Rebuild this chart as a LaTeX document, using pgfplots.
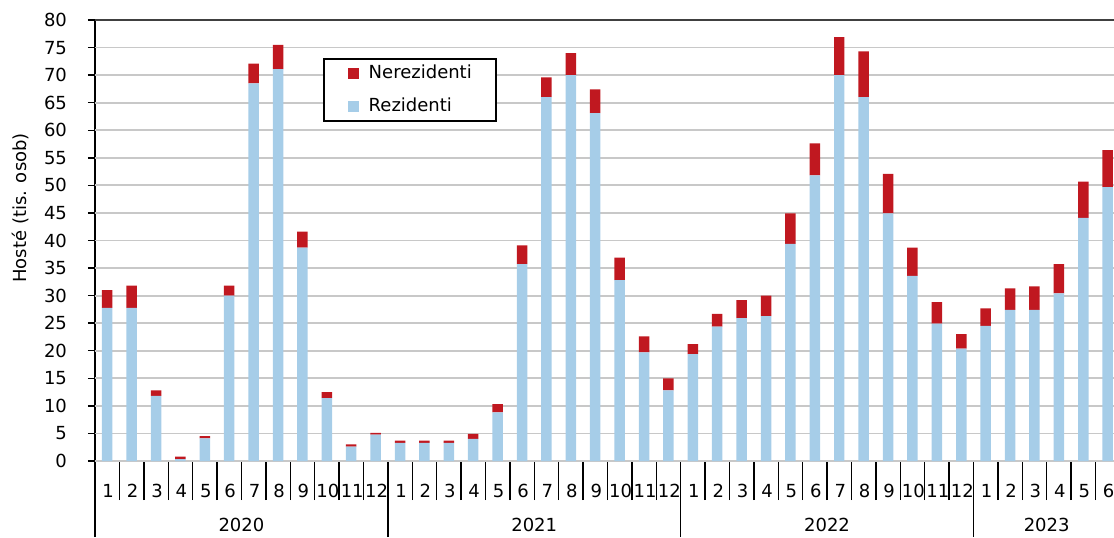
\documentclass[border=0pt]{standalone}
\usepackage{pgfplots}
\pgfplotsset{compat=1.18}
\usepackage{pgfplotstable}
\usepackage{fontspec}
\setmainfont{DejaVu Sans}
\definecolor{rez}{RGB}{166,205,232}
\definecolor{nerez}{RGB}{192,24,32}
\definecolor{gridc}{RGB}{200,200,200}
\pgfplotsset{sqleg/.style={legend image code/.code={\fill[##1] (0pt,-2.75pt) rectangle (5.5pt,2.75pt);}}}

\pgfplotstableread{
x R N
0 27.8 3.2
1 27.8 4.0
2 11.8 1.0
3 0.35 0.45
4 4.1 0.4
5 30.0 1.8
6 68.5 3.6
7 71.1 4.4
8 38.7 2.9
9 11.4 1.1
10 2.6 0.4
11 4.8 0.3
12 3.3 0.4
13 3.3 0.4
14 3.3 0.4
15 4.0 0.9
16 8.8 1.5
17 35.7 3.4
18 66.0 3.6
19 70.0 4.0
20 63.1 4.3
21 32.8 4.1
22 19.7 2.9
23 12.8 2.2
24 19.4 1.8
25 24.4 2.3
26 25.9 3.3
27 26.3 3.7
28 39.4 5.5
29 51.8 5.8
30 70.0 6.9
31 66.0 8.3
32 44.9 7.2
33 33.6 5.1
34 24.9 3.9
35 20.4 2.6
36 24.5 3.2
37 27.4 3.9
38 27.4 4.3
39 30.4 5.3
40 44.1 6.6
41 49.7 6.7
}\data

\begin{document}
\begin{tikzpicture}[font=\fontsize{9pt}{10.8pt}\selectfont]
\useasboundingbox (0,0) rectangle (557pt,268.5pt);
\begin{axis}[
  at={(47.5pt,38pt)}, anchor=south west,
  scale only axis, width=509.5pt, height=220.5pt,
  clip mode=individual,
  /pgf/number format/assume math mode=true,
  ybar stacked, bar width=0.43,
  xmin=-0.5, xmax=41.26, ymin=0, ymax=80,
  axis x line=bottom, axis y line=left,
  axis line style={-, black, line width=0.8pt},
  tick align=outside,
  major tick length=19.5pt,
  ytick={0,5,...,80},
  ytick style={draw=none},
  yticklabel style={xshift=9pt},
  extra y ticks={0,5,...,80},
  extra y tick labels={},
  extra y tick style={major tick length=3.5pt, ytick style={draw=black, line width=0.7pt}},
  ymajorgrids, major grid style={gridc, line width=0.9pt},
  xtick={-0.5,0.5,...,40.5},
  xticklabels={1,2,3,4,5,6,7,8,9,10,11,12,1,2,3,4,5,6,7,8,9,10,11,12,1,2,3,4,5,6,7,8,9,10,11,12,1,2,3,4,5,6},
  xtick style={black, line width=0.7pt},
  xticklabel style={anchor=center, xshift=6.6pt, yshift=4.5pt},
  extra x ticks={-0.5,11.5,23.5,35.5},
  extra x tick labels={},
  extra x tick style={major tick length=38pt, xtick style={black, line width=0.7pt}},
  ylabel={Hosté (tis. osob)},
  ylabel style={at={(axis description cs:-0.0736,0.574)}, anchor=center},
  legend style={at={(rel axis cs:0.2237,0.914)}, anchor=north west, draw=black, line width=0.8pt,
    inner xsep=12pt, inner ysep=2.9pt, row sep=7.25pt, column sep=5pt,
    nodes={inner sep=0pt, text height=7pt, text depth=2pt}, font=\fontsize{9pt}{10.8pt}\selectfont},
  legend cell align=left,
  reverse legend,
]
\addplot[fill=rez, draw=none, sqleg] table[x=x, y=R] {\data};
\addplot[fill=nerez, draw=none, sqleg] table[x=x, y=N] {\data};
\legend{Rezidenti, Nerezidenti}
\draw[black!75, line width=1.2pt] (rel axis cs:0,1) -- (rel axis cs:1,1);
\node at (axis cs:5.5,0) [yshift=-32pt] {2020};
\node at (axis cs:17.5,0) [yshift=-32pt] {2021};
\node at (axis cs:29.5,0) [yshift=-32pt] {2022};
\node at (axis cs:38.5,0) [yshift=-32pt] {2023};
\end{axis}
\end{tikzpicture}
\end{document}
